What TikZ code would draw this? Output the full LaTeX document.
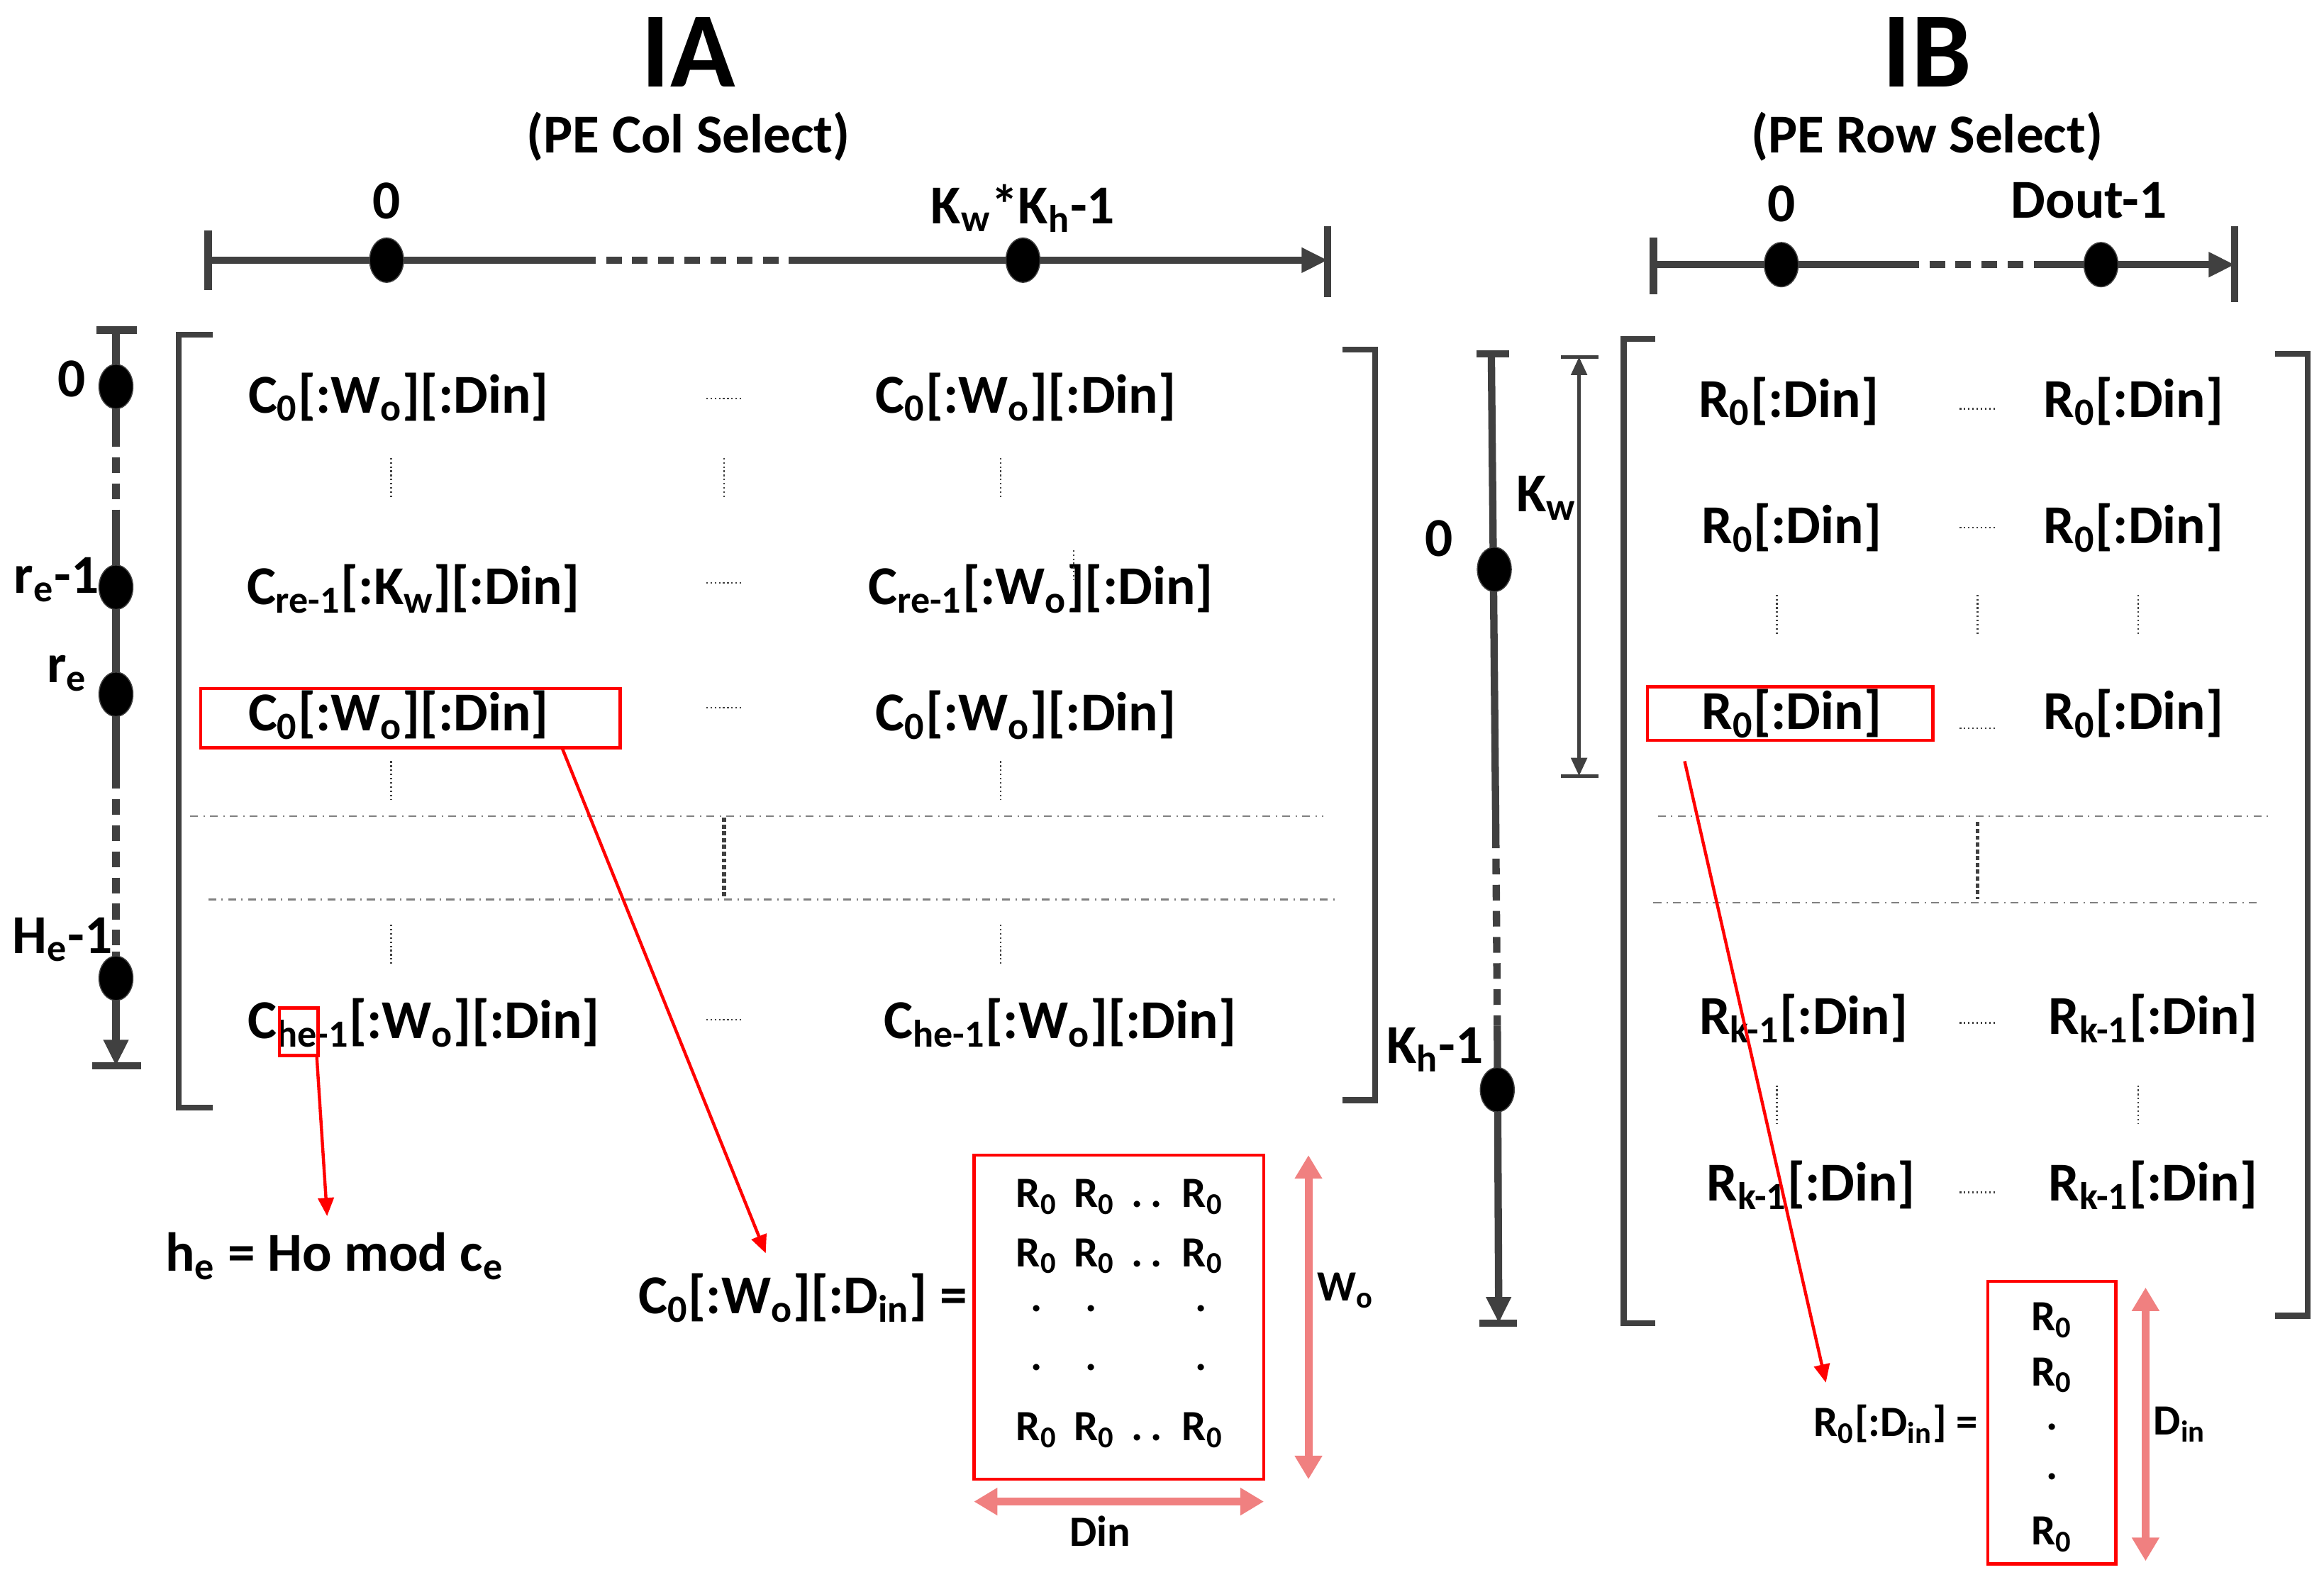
\documentclass[tikz,border=0pt]{standalone}
\usepackage{fontspec}
\setmainfont{Carlito}
\usetikzlibrary{arrows.meta,shapes.geometric}
\definecolor{dk}{HTML}{404040}
\definecolor{lr}{HTML}{F08080}
\newcommand{\sbx}[1]{\textsubscript{#1}}
\begin{document}
\begin{tikzpicture}[x=0.02cm,y=-0.02cm,
  T/.style={font=\bfseries\fontsize{21}{25}\selectfont,inner sep=1pt},
  S/.style={font=\bfseries\fontsize{16.5}{20}\selectfont,inner sep=1pt},
  ttl/.style={font=\bfseries\fontsize{41}{45}\selectfont},
  ax/.style={dk,line width=2.8pt},
  axd/.style={dk,line width=2.8pt,dash pattern=on 6pt off 4pt},
  br/.style={dk,line width=2.2pt},
  dot/.style={fill=black,draw=dk,ellipse,minimum width=13pt,minimum height=17pt,inner sep=0pt},
  hd/.style={dk,line width=0.6pt,densely dotted},
  vd/.style={dk,line width=0.6pt,densely dotted},
  dd/.style={gray,line width=0.6pt,dash dot},
  rb/.style={red,line width=1.2pt},
  ra/.style={red,line width=1.2pt,-{Triangle[length=7pt,width=6pt]}},
  la/.style={lr,line width=3pt,{Triangle[length=9pt,width=10pt]}-{Triangle[length=9pt,width=10pt]}},
  ar/.style={-{Triangle[length=10pt,width=9pt]}}]
\useasboundingbox (0,0) rectangle (1563,1064);
% ---------- Left titles ----------
\node[ttl] (tA) at (463,35) {IA};
\node[T] (sA) at (463,92) {(PE Col Select)};
% horizontal axis
\coordinate (h0) at (140,175); \coordinate (h1) at (390,175); \coordinate (h2) at (540,175); \coordinate (h3) at (893,175);
\draw[ax] (h0)--(h1); \draw[axd] (h1)--(h2); \draw[ax,ar] (h2)--(h3);
\draw[ax] (140,155)--(140,195); \draw[ax] (893,152)--(893,200);
\node[dot] (d1) at (260,175) {}; \node[dot] (d2) at (688,175) {};
\node[T] (l0) at (260,135) {0};
\node[T] (lk) at (688,140) {K\sbx{w}*K\sbx{h}-1};
% vertical axis
\draw[ax] (78,222)--(78,290); \draw[axd] (78,290)--(78,350); \draw[ax] (78,350)--(78,520);
\draw[axd] (78,520)--(78,640); \draw[ax,ar] (78,640)--(78,717);
\draw[ax] (65,222)--(92,222); \draw[ax] (62,717)--(95,717);
\node[dot] (v1) at (78,260) {}; \node[dot] (v2) at (78,395) {}; \node[dot] (v3) at (78,467) {}; \node[dot] (v4) at (78,658) {};
\node[T] (vl1) at (48,255) {0};
\node[T] (vl2) at (38,390) {r\sbx{e}-1};
\node[T] (vl3) at (45,453) {r\sbx{e}};
\node[T] (vl4) at (42,632) {H\sbx{e}-1};
% brackets
\draw[br] (143,225)--(120,225)--(120,745)--(143,745);
\draw[br] (903,235)--(925,235)--(925,740)--(903,740);
% entries
\node[T] (a11) at (268,267) {C\sbx{0}[:W\sbx{o}][:Din]};
\node[T] (a12) at (690,267) {C\sbx{0}[:W\sbx{o}][:Din]};
\draw[hd] (475,268)--(499,268);
\foreach \x in {263,487,673} \draw[vd] (\x,308)--(\x,336);
\node[T] (a21) at (278,396) {C\sbx{re-1}[:K\sbx{w}][:Din]};
\node[T] (a22) at (700,396) {C\sbx{re-1}[:W\sbx{o}][:Din]};
\draw[hd] (475,392)--(499,392);
\draw[vd] (722,370)--(722,390);
\node[T] (a31) at (268,481) {C\sbx{0}[:W\sbx{o}][:Din]};
\node[T] (a32) at (690,481) {C\sbx{0}[:W\sbx{o}][:Din]};
\draw[hd] (475,476)--(499,476);
\draw[rb] (135,463) rectangle (417,503);
\foreach \x in {263,673} \draw[vd] (\x,512)--(\x,538);
\draw[dd] (128,549)--(890,549);
\draw[dd] (140,605)--(900,605);
\draw[dk,line width=1.6pt,densely dotted] (487,550)--(487,603);
\foreach \x in {263,673} \draw[vd] (\x,622)--(\x,648);
\node[T] (a41) at (285,688) {C\sbx{he-1}[:W\sbx{o}][:Din]};
\node[T] (a42) at (713,688) {C\sbx{he-1}[:W\sbx{o}][:Din]};
\draw[hd] (475,686)--(499,686);
\draw[rb] (188,678) rectangle (214,710);
\coordinate (s1) at (213,710);
\node[T] (he) at (225,845) {h\sbx{e} = Ho mod c\sbx{e}};
\draw[ra] (s1)--(220,818);
\coordinate (s2) at (378,503);
\node[T] (eqA) at (540,873) {C\sbx{0}[:W\sbx{o}][:D\sbx{in}] =};
\draw[ra] (s2)--(515,843);
\draw[rb] (655,777) rectangle (850,995);
\node[S] (m1) at (753,805) {R\sbx{0}\, R\sbx{0}\, .\,.\, R\sbx{0}};
\node[S] (m2) at (753,845) {R\sbx{0}\, R\sbx{0}\, .\,.\, R\sbx{0}};
\node[S] (m3) at (753,962) {R\sbx{0}\, R\sbx{0}\, .\,.\, R\sbx{0}};
\foreach \y in {885,925} \foreach \x in {697,734,808} \node[S] at (\x,\y-5) {.};
\draw[la] (880,777)--(880,995);
\node[S] (wo) at (905,868) {W\sbx{o}};
\draw[la] (655,1010)--(850,1010);
\node[S] (din) at (740,1030) {Din};
% ---------- Right ----------
\node[ttl] (tB) at (1296,35) {IB};
\node[T] (sB) at (1296,92) {(PE Row Select)};
\draw[ax] (1112,178)--(1280,178); \draw[axd] (1280,178)--(1370,178); \draw[ax,ar] (1370,178)--(1503,178);
\draw[ax] (1112,160)--(1112,198); \draw[ax] (1503,152)--(1503,203);
\node[dot] (e1) at (1198,178) {}; \node[dot] (e2) at (1413,178) {};
\node[T] (r0) at (1198,137) {0};
\node[T] (rd) at (1405,135) {Dout-1};
% slanted vertical axis
\draw[ax] (1003,238)--(1006,560); \draw[axd] (1006,560)--(1007,690); \draw[ax,ar] (1007,690)--(1008,890);
\draw[ax] (993,238)--(1015,238); \draw[ax] (995,890)--(1020,890);
\node[dot] (w1) at (1005,383) {}; \node[dot] (w2) at (1007,733) {};
\node[T] (wl1) at (968,362) {0};
\node[T] (wl2) at (965,706) {K\sbx{h}-1};
\draw[dk,line width=1.4pt,{Triangle[length=7pt,width=6pt]}-{Triangle[length=7pt,width=6pt]}] (1062,240)--(1062,522);
\draw[dk,line width=1.4pt] (1050,240)--(1075,240); \draw[dk,line width=1.4pt] (1050,522)--(1075,522);
\node[T] (kw) at (1040,335) {K\sbx{w}};
\draw[br] (1113,228)--(1092,228)--(1092,890)--(1113,890);
\draw[br] (1530,238)--(1552,238)--(1552,885)--(1530,885);
\node[T] (b11) at (1203,270) {R\sbx{0}[:Din]};
\node[T] (b12) at (1435,270) {R\sbx{0}[:Din]};
\draw[hd] (1318,275)--(1342,275);
\node[T] (b21) at (1205,355) {R\sbx{0}[:Din]};
\node[T] (b22) at (1435,355) {R\sbx{0}[:Din]};
\draw[hd] (1318,355)--(1342,355);
\foreach \x in {1195,1330,1438} \draw[vd] (\x,400)--(\x,428);
\node[T] (b31) at (1205,480) {R\sbx{0}[:Din]};
\node[T] (b32) at (1435,480) {R\sbx{0}[:Din]};
\draw[hd] (1318,490)--(1342,490);
\draw[rb] (1108,462) rectangle (1300,498);
\draw[dd] (1115,549)--(1527,549);
\draw[dd] (1112,607)--(1520,607);
\draw[dk,line width=1.6pt,densely dotted] (1330,553)--(1330,605);
\node[T] (b41) at (1213,685) {R\sbx{k-1}[:Din]};
\node[T] (b42) at (1448,685) {R\sbx{k-1}[:Din]};
\draw[hd] (1318,688)--(1342,688);
\foreach \x in {1195,1438} \draw[vd] (\x,730)--(\x,756);
\node[T] (b51) at (1218,797) {R\sbx{k-1}[:Din]};
\node[T] (b52) at (1448,797) {R\sbx{k-1}[:Din]};
\draw[hd] (1318,802)--(1342,802);
\coordinate (s3) at (1133,512);
\node[S] (eqB) at (1275,958) {R\sbx{0}[:D\sbx{in}] =};
\draw[ra] (s3)--(1228,930);
\draw[rb] (1337,862) rectangle (1423,1052);
\node[S] (n1) at (1380,888) {R\sbx{0}};
\node[S] (n2) at (1380,925) {R\sbx{0}};
\node[S] at (1380,960) {.};
\node[S] at (1380,993) {.};
\node[S] (n3) at (1380,1032) {R\sbx{0}};
\draw[la] (1443,866)--(1443,1050);
\node[S] (dn) at (1466,958) {D\sbx{in}};
\end{tikzpicture}
\end{document}
